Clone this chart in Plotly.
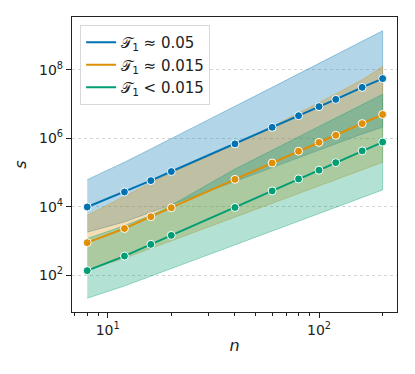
import plotly.graph_objects as go

# sample sizes
n = [8, 12, 16, 20, 40, 60, 80, 100, 120, 160, 200]

# mean s and band limits per group
blue_mean = [9.8e3, 2.7e4, 5.8e4, 1.07e5, 6.9e5, 2.1e6, 4.6e6, 8.5e6, 1.38e7, 3.1e7, 5.6e7]
blue_upper = [6.2e4, 2.0e5, 4.9e5, 1.0e6, 8.7e6, 3.1e7, 7.8e7, 1.6e8, 2.8e8, 7.1e8, 1.4e9]
blue_lower = [1.8e3, 3.6e3, 6.8e3, 1.15e4, 5.5e4, 1.4e5, 2.7e5, 4.6e5, 6.9e5, 1.35e6, 2.1e6]

orange_mean = [8.9e2, 2.3e3, 5.1e3, 9.3e3, 6.3e4, 1.9e5, 4.2e5, 7.6e5, 1.23e6, 2.7e6, 5.0e6]
orange_upper = [5.6e3, 2.0e4, 5.0e4, 1.0e5, 6.6e5, 2.2e6, 5.5e6, 1.1e7, 2.0e7, 5.2e7, 1.26e8]
orange_lower = [1.4e2, 3.1e2, 6.0e2, 1.0e3, 5.0e3, 1.3e4, 2.5e4, 4.1e4, 6.2e4, 1.2e5, 2.0e5]

green_mean = [1.35e2, 3.6e2, 7.9e2, 1.45e3, 9.5e3, 2.9e4, 6.5e4, 1.17e5, 1.95e5, 4.3e5, 7.8e5]
green_upper = [1.17e3, 2.8e3, 5.6e3, 1.1e4, 1.26e5, 4.5e5, 1.1e6, 2.2e6, 3.9e6, 9.5e6, 1.95e7]
green_lower = [21, 48, 93, 155, 7.6e2, 1.95e3, 3.8e3, 6.3e3, 9.8e3, 1.86e4, 3.1e4]

labels = ["𝒯<sub>1</sub> ≈ 0.05", "𝒯<sub>1</sub> ≈ 0.015", "𝒯<sub>1</sub> < 0.015"]
x_ticks = [10, 100]
x_ticktext = ["10<sup>1</sup>", "10<sup>2</sup>"]
y_ticks = [1e2, 1e4, 1e6, 1e8]
y_ticktext = ["10<sup>2</sup>", "10<sup>4</sup>", "10<sup>6</sup>", "10<sup>8</sup>"]

groups = [
    (blue_mean, blue_upper, blue_lower, (1, 115, 178)),
    (orange_mean, orange_upper, orange_lower, (222, 143, 5)),
    (green_mean, green_upper, green_lower, (2, 158, 115)),
]

fig = go.Figure()

for mean, upper, lower, (r, g, b) in groups:
    fig.add_trace(go.Scatter(
        x=n + n[::-1], y=upper + lower[::-1],
        fill="toself", fillcolor=f"rgba({r},{g},{b},0.3)",
        line=dict(color=f"rgba({r},{g},{b},0.35)", width=1),
        mode="lines", showlegend=False, hoverinfo="skip"))

for (mean, upper, lower, (r, g, b)), label in zip(groups, labels):
    color = f"rgb({r},{g},{b})"
    fig.add_trace(go.Scatter(
        x=n, y=mean, mode="lines", name=label,
        line=dict(color=color, width=2)))
    fig.add_trace(go.Scatter(
        x=n, y=mean, mode="markers", showlegend=False,
        marker=dict(color=color, size=8, line=dict(color="white", width=1))))

axis_common = dict(
    showline=True, linecolor="#222", linewidth=1.3, mirror=True,
    ticks="outside", ticklen=5, tickwidth=1.2, tickcolor="#222",
    tickfont=dict(size=14, color="#222"), zeroline=False, automargin=False,
)

fig.update_xaxes(
    type="log", range=[0.831, 2.369],
    tickvals=x_ticks, ticktext=x_ticktext, showgrid=False,
    minor=dict(ticks="outside", ticklen=3, tickwidth=1, tickcolor="#222",
               tickvals=[7, 8, 9, 20, 30, 40, 50, 60, 70, 80, 90, 200]),
    title=dict(text="<i>n</i>", font=dict(size=16, color="#222"), standoff=2),
    **axis_common)

fig.update_yaxes(
    type="log", range=[0.92, 9.55],
    tickvals=y_ticks, ticktext=y_ticktext,
    showgrid=True, gridcolor="#d4d4d4", griddash="dot", gridwidth=1,
    title=dict(text="<i>s</i>", font=dict(size=16, color="#222"), standoff=8),
    **axis_common)

fig.update_layout(
    width=415, height=374,
    margin=dict(l=72, r=18, t=17, b=62),
    paper_bgcolor="white", plot_bgcolor="white",
    font=dict(family="DejaVu Sans", color="#222"),
    legend=dict(x=0.025, y=0.973, xanchor="left", yanchor="top",
                bgcolor="rgba(255,255,255,0.85)", bordercolor="#d8d8d8",
                borderwidth=1, font=dict(size=15), tracegroupgap=0),
)

# drop the browser's default body margin so the figure sits at the page corner
fig.write_html("out.html", config={"displayModeBar": False},
               post_script="document.body.style.margin='0';")
